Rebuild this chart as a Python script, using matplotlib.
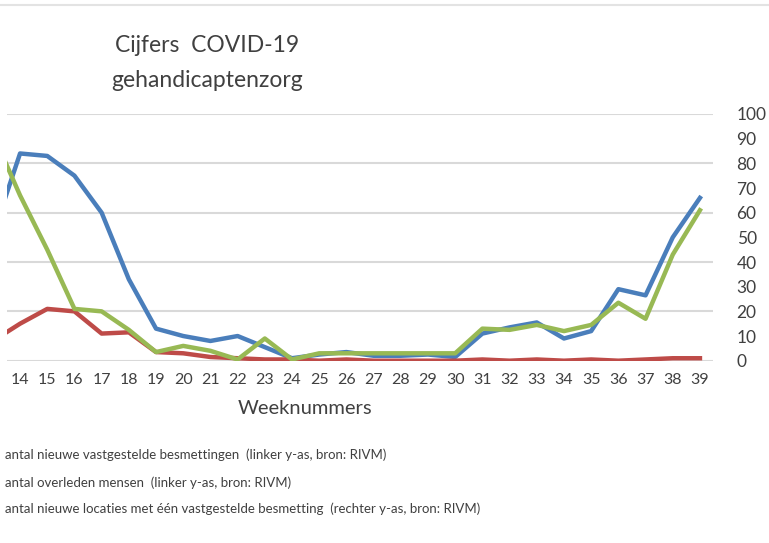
import matplotlib
matplotlib.use("Agg")
import matplotlib.pyplot as plt
from matplotlib.lines import Line2D

plt.rcParams['font.family'] = ['Lato', 'DejaVu Sans']

# ---- data ----
weeks = list(range(13, 40))
besmettingen = [51, 84, 83, 75, 60, 33, 13, 10, 8, 10, 5.5, 1, 2.5, 3.5, 2, 2, 2.5, 1.5,
                11, 13.5, 15.5, 9, 12, 29, 26.5, 50, 66]
overleden = [8, 15, 21, 20, 11, 11.5, 3.5, 3, 1.5, 1, 0.5, 0.5, 0, 0.5, 0, 0, 0, 0,
             0.5, 0, 0.5, 0, 0.5, 0, 0.5, 1, 1]
locaties = [92, 67, 45, 21, 20, 12.5, 3.5, 6, 4, 0.5, 9, 0.5, 3, 3, 3, 3, 3, 3,
            13, 12.5, 14.5, 12, 14.5, 23.5, 17, 43, 61]
tick_weeks = list(range(14, 40))
tick_labels = [str(w) for w in tick_weeks]
y_ticks = list(range(0, 101, 10))
grid_vals = list(range(0, 101, 20))

title_lines = ["Cijfers  COVID-19", "gehandicaptenzorg"]
xlabel = "Weeknummers"
legend_texts = [
    "antal nieuwe vastgestelde besmettingen  (linker y-as, bron: RIVM)",
    "antal overleden mensen  (linker y-as, bron: RIVM)",
    "antal nieuwe locaties met één vastgestelde besmetting  (rechter y-as, bron: RIVM)",
]

W, H = 769, 543
fig = plt.figure(figsize=(W / 100, H / 100), dpi=100)
fig.patch.set_facecolor('white')

left_px, right_px = 7, 713
top_px, bottom_px = 114, 360.7
ax = fig.add_axes([left_px / W, 1 - bottom_px / H, (right_px - left_px) / W, (bottom_px - top_px) / H])
ax.set_facecolor('white')

for g in grid_vals:
    ax.axhline(g, color='#d9d9d9', lw=1.5, zorder=1)

blue = '#4a7ebb'
red = '#be4b48'
green = '#98b954'
lw = 3.2
ax.plot(weeks, besmettingen, color=blue, lw=lw, zorder=3, solid_joinstyle='round')
ax.plot(weeks, overleden, color=red, lw=lw, zorder=3, solid_joinstyle='round')
ax.plot(weeks, locaties, color=green, lw=lw, zorder=4, solid_joinstyle='round')

ax.set_xlim(13.52, 39.48)
ax.set_ylim(0, 100)
for sp in ax.spines.values():
    sp.set_visible(False)

ax.set_xticks(tick_weeks)
ax.set_xticklabels(tick_labels, fontsize=11.5, color='#404040')
ax.yaxis.tick_right()
ax.set_yticks(y_ticks)
ax.set_yticklabels([str(v) for v in y_ticks], fontsize=12.5, color='#404040')
ax.tick_params(axis='x', length=0, pad=9)
ax.tick_params(axis='y', length=0, pad=17)
for lab in ax.get_yticklabels():
    lab.set_horizontalalignment('left')

fig.text(305 / W, 1 - 408 / H, xlabel, ha='center', va='center', fontsize=14.5, color='#404040')

fig.text(207 / W, 1 - 45 / H, title_lines[0], ha='center', va='center', fontsize=16.5,
         color='#404040')
fig.text(207 / W, 1 - 80 / H, title_lines[1], ha='center', va='center', fontsize=16.5,
         color='#404040')

for txt, ypx in zip(legend_texts, [455, 483, 509]):
    fig.text(5 / W, 1 - ypx / H, txt, ha='left', va='center', fontsize=9.5,
             color='#404040')

fig.add_artist(Line2D([0, 1], [1 - 5 / H, 1 - 5 / H], color='#e3e3e3', lw=1.5, transform=fig.transFigure))

fig.savefig('out.png', dpi=100, facecolor='white')
